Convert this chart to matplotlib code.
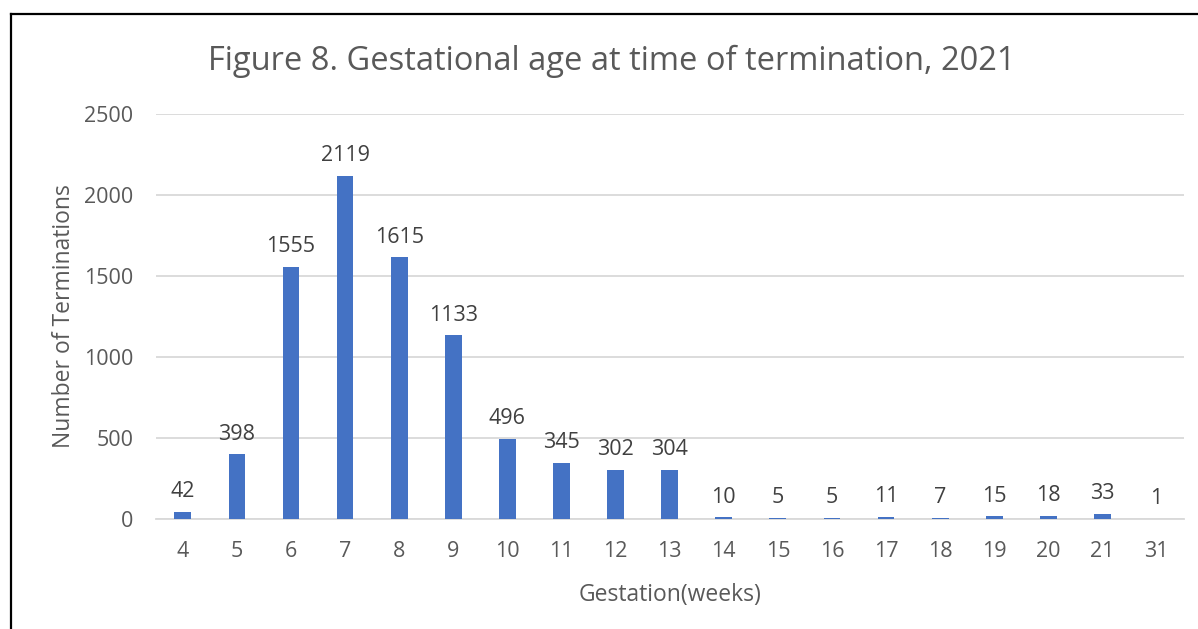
import matplotlib.pyplot as plt
from matplotlib.lines import Line2D

# Data
weeks = ["4", "5", "6", "7", "8", "9", "10", "11", "12", "13",
         "14", "15", "16", "17", "18", "19", "20", "21", "31"]
terminations = [42, 398, 1555, 2119, 1615, 1133, 496, 345, 302, 304,
                10, 5, 5, 11, 7, 15, 18, 33, 1]
y_ticks = [0, 500, 1000, 1500, 2000, 2500]

plt.rcParams['font.family'] = ['Open Sans', 'DejaVu Sans']
text_color = '#595959'

fig = plt.figure(figsize=(11.98, 6.29), dpi=100)
ax = fig.add_axes([0.130, 0.175, 0.858, 0.644])

x = range(len(weeks))
ax.bar(x, terminations, width=0.31, color='#4472C4', zorder=3)

for xi, val in zip(x, terminations):
    ax.text(xi, val + 60, str(val), ha='center', va='bottom',
            fontsize=15.5, color='#404040')

ax.set_xlim(-0.5, len(weeks) - 0.5)
ax.set_ylim(0, 2500)
ax.set_yticks(y_ticks)
ax.set_xticks(list(x))
ax.set_xticklabels(weeks)
ax.tick_params(axis='both', length=0, labelsize=15.5, labelcolor=text_color)
ax.tick_params(axis='x', pad=16)
ax.tick_params(axis='y', pad=16)
ax.grid(axis='y', color='#D9D9D9', linewidth=1.3, zorder=0)
for side in ['top', 'right', 'left']:
    ax.spines[side].set_visible(False)
ax.spines['bottom'].set_color('#D9D9D9')
ax.spines['bottom'].set_linewidth(1.3)

ax.set_xlabel('Gestation(weeks)', fontsize=16.5, color=text_color, labelpad=15)
ax.set_ylabel('Number of Terminations', fontsize=16.5, color=text_color, labelpad=6)

fig.text(0.511, 0.902, 'Figure 8. Gestational age at time of termination, 2021',
         ha='center', va='center', fontsize=23.5, color=text_color)

# Frame lines (left and top) as in the reference screenshot
fig.add_artist(Line2D([0.0095, 0.0095], [0.0, 0.977], color='black', linewidth=1.6))
fig.add_artist(Line2D([0.0095, 1.0], [0.977, 0.977], color='black', linewidth=1.6))

fig.savefig('out.png', dpi=100)
